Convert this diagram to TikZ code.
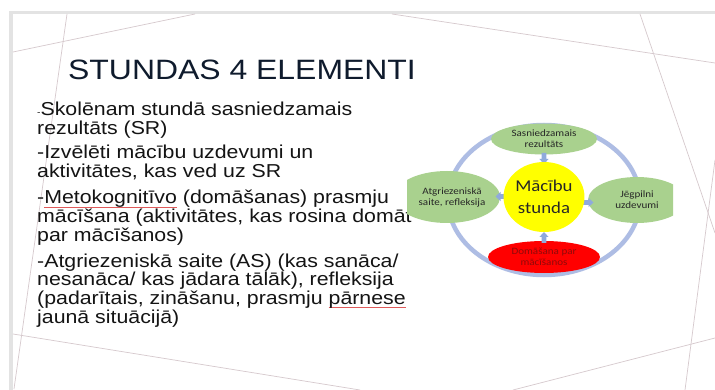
\documentclass[tikz,border=0pt]{standalone}
\usepackage{fontspec}
\setmainfont{Liberation Sans}[FakeStretch=1.14]
\newfontfamily\diagfont{Carlito}[FakeStretch=1.14]
\usetikzlibrary{shapes.geometric}
\definecolor{framegray}{HTML}{E3E3E3}
\definecolor{decoline}{HTML}{D6C9CD}
\definecolor{titletext}{HTML}{0F1B2D}
\definecolor{bodytext}{HTML}{141414}
\definecolor{spellred}{HTML}{E05A5A}
\definecolor{greenfill}{HTML}{A9D18E}
\definecolor{yellowfill}{HTML}{FFFF00}
\definecolor{redfill}{HTML}{FF0000}
\definecolor{ringblue}{HTML}{AEBDE4}
\definecolor{arrowblue}{HTML}{8FAADC}
\definecolor{diagtext}{HTML}{262626}
\definecolor{redtext}{HTML}{8E0A0A}
\newsavebox\spellbox
\newcommand\spellerr[1]{\sbox\spellbox{#1}\rlap{\textcolor{spellred}{\rule[-3.4pt]{\wd\spellbox}{0.5pt}}}\usebox{\spellbox}}
\begin{document}
\begin{tikzpicture}[x=1pt,y=-1pt,
  deco/.style={draw=decoline, line width=0.7pt},
  bodyline/.style={anchor=base west, inner sep=0pt, text=bodytext, font=\fontsize{18.7}{18.7}\selectfont},
  ell/.style={ellipse, inner sep=0pt, align=center, text=diagtext, font=\diagfont\fontsize{9.7}{11}\selectfont},
  greenell/.style={ell, fill=greenfill},
  ring/.style={draw=ringblue, line width=4.5pt},
  pics/barrow/.style={code={\fill[arrowblue] (-5.5,-2.3) -- (0.5,-2.3) -- (0.5,-4.6) -- (5.5,0) -- (0.5,4.6) -- (0.5,2.3) -- (-5.5,2.3) -- cycle;}}
]
\useasboundingbox (0,0) rectangle (715,390);
\fill[white] (0,0) rectangle (715,390);
\fill[framegray] (9,11) rectangle (715,390);
\fill[white] (13,14) rectangle (715,390);
% decorative lines
\draw[deco] (13,52) -- (195,14);
\draw[deco] (67,14) -- (14,389);
\draw[deco] (392,14) -- (715,63);
\draw[deco] (640,14) -- (715,233);
\draw[deco] (685,390) -- (715,160);
\draw[deco] (13,334) -- (360,390);
\draw[deco] (513,390) -- (715,338);
% title
\node[anchor=base west, inner sep=0pt, text=titletext, font=\fontsize{28}{28}\selectfont] (title) at (68,80) {STUNDAS 4 ELEMENTI};
% body
\node[bodyline] (l1) at (37,116) {{\fontsize{9}{9}\selectfont -}Skolēnam stundā sasniedzamais};
\node[bodyline] (l2) at (37,134.7) {rezultāts (SR)};
\node[bodyline] (l3) at (37,159) {-Izvēlēti mācību uzdevumi un};
\node[bodyline] (l4) at (37,177.5) {aktivitātes, kas ved uz SR};
\node[bodyline] (l5) at (37,204) {-\spellerr{Metokognitīvo} (domāšanas) prasmju};
\node[bodyline] (l6) at (37,222.7) {mācīšana (aktivitātes, kas rosina domāt};
\node[bodyline] (l7) at (37,241.4) {par mācīšanos)};
\node[bodyline] (l8) at (37,267) {-Atgriezeniskā saite (AS) (kas sanāca/};
\node[bodyline] (l9) at (37,285.7) {nesanāca/ kas jādara tālāk), refleksija};
\node[bodyline] (l10) at (37,304.4) {(padarītais, zināšanu, prasmju \spellerr{pārnese}};
\node[bodyline] (l11) at (37,323) {jaunā situācijā)};
% diagram
\draw[ring] (544,200) ellipse [x radius=96, y radius=75];
\begin{scope}
  \clip (407,110) rectangle (673,290);
  \node[greenell, minimum width=106, minimum height=31] (top) at (544,139) {Sasniedzamais\\rezultāts};
  \node[greenell, minimum width=106, minimum height=52] (left) at (447,197) {};
  \node[greenell, minimum width=98, minimum height=46] (right) at (637,200) {};
\end{scope}
\node[ell, inner sep=0pt] (lefttext) at (452,197) {Atgriezeniskā\\saite, refleksija};
\node[ell, inner sep=0pt] (righttext) at (637,200) {Jēgpilni\\uzdevumi};
\node[ell, fill=redfill, text=redtext, minimum width=112, minimum height=32] (bottom) at (544,257) {Domāšana par\\mācīšanos};
\pic[rotate=-90] at (544,158.5) {barrow};
\pic[rotate=180] at (501,196.5) {barrow};
\pic at (588,202.5) {barrow};
\pic[rotate=90] at (544,237.5) {barrow};
\node[ellipse, fill=yellowfill, inner sep=0pt, minimum width=80, minimum height=70, align=center, text=diagtext, font=\diagfont\fontsize{16.5}{22}\selectfont] (center) at (544,197) {Mācību\\stunda};
\end{tikzpicture}
\end{document}
